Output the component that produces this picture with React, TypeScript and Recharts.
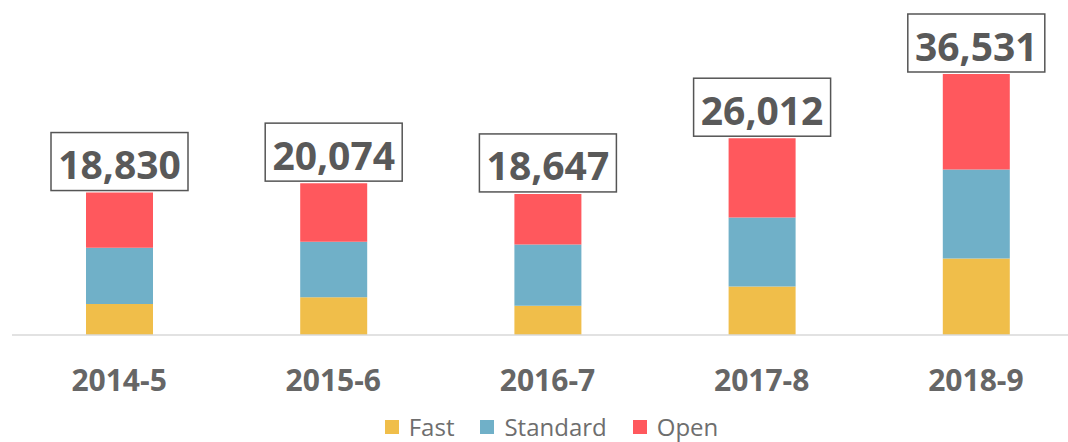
import { BarChart, Bar, XAxis, YAxis, Legend, LabelList } from "recharts";

const categories = ["2014-5", "2015-6", "2016-7", "2017-8", "2018-9"];
const fastValues = [4104, 4991, 3879, 6395, 10102];
const standardValues = [7414, 7322, 8076, 9136, 11784];
const openValues = [7312, 7761, 6692, 10481, 14645];
const totals = [18830, 20074, 18647, 26012, 36531];

const series = [
  { key: "fast", name: "Fast", color: "#F0BE4A" },
  { key: "standard", name: "Standard", color: "#70B0C8" },
  { key: "open", name: "Open", color: "#FF585D" },
];

const data = categories.map((c, i) => ({
  name: c,
  fast: fastValues[i],
  standard: standardValues[i],
  open: openValues[i],
  total: totals[i],
}));

const PLOT_TOP = 74;
const FONT = "'Open Sans', 'Noto Sans', sans-serif";

const TotalLabel = (props: any) => {
  const vb = props.viewBox || {};
  const x = Number(vb.x ?? props.x);
  const y = Number(vb.y ?? props.y);
  const w = Number(vb.width ?? props.width);
  const top = Math.max(y, PLOT_TOP);
  const cx = x + w / 2;
  return (
    <g>
      <rect
        x={cx - 68.5}
        y={top - 60}
        width={137}
        height={58}
        fill="#fff"
        stroke="#555"
        strokeWidth={1.5}
      />
      <text
        x={cx}
        y={top - 13.5}
        textAnchor="middle"
        fill="#595959"
        fontSize={39}
        fontWeight={700}
        fontFamily={FONT}
      >
        {Number(props.value).toLocaleString("en-US")}
      </text>
    </g>
  );
};

const LegendBox = () => (
  <div
    style={{
      display: "flex",
      justifyContent: "center",
      alignItems: "center",
      height: 24,
      paddingLeft: 20,
      fontFamily: FONT,
      fontSize: 24,
      lineHeight: "24px",
      color: "#6e6e6e",
    }}
  >
    {series.map((s, i) => (
      <div
        key={s.key}
        style={{ display: "flex", alignItems: "center", marginRight: i < series.length - 1 ? 26 : 0 }}
      >
        <span style={{ width: 14, height: 14, background: s.color, marginRight: 10, display: "inline-block" }} />
        <span>{s.name}</span>
      </div>
    ))}
  </div>
);

export default function App() {
  return (
    <div style={{ position: "absolute", left: 0, top: 0, width: 1068, height: 442, overflow: "hidden", background: "#fff" }}>
      <BarChart
        width={1083}
        height={442}
        data={data}
        margin={{ top: PLOT_TOP, right: 0, left: 12, bottom: 0 }}
      >
        <XAxis
          dataKey="name"
          height={83}
          axisLine={{ stroke: "#d9d9d9", strokeWidth: 1.5 }}
          tickLine={false}
          tickSize={0}
          tickMargin={35}
          tick={{ fill: "#666", fontSize: 30, fontWeight: 700, fontFamily: FONT }}
        />
        <YAxis hide domain={[0, 34500]} allowDataOverflow />
        <Legend
          verticalAlign="bottom"
          wrapperStyle={{ left: 0, width: 1083, bottom: 3 }}
          content={<LegendBox />}
        />
        {series.map((s) => (
          <Bar
            key={s.key}
            dataKey={s.key}
            name={s.name}
            stackId="a"
            fill={s.color}
            barSize={67}
            isAnimationActive={false}
          >
            {s.key === "open" && <LabelList dataKey="total" content={<TotalLabel />} />}
          </Bar>
        ))}
      </BarChart>
    </div>
  );
}
